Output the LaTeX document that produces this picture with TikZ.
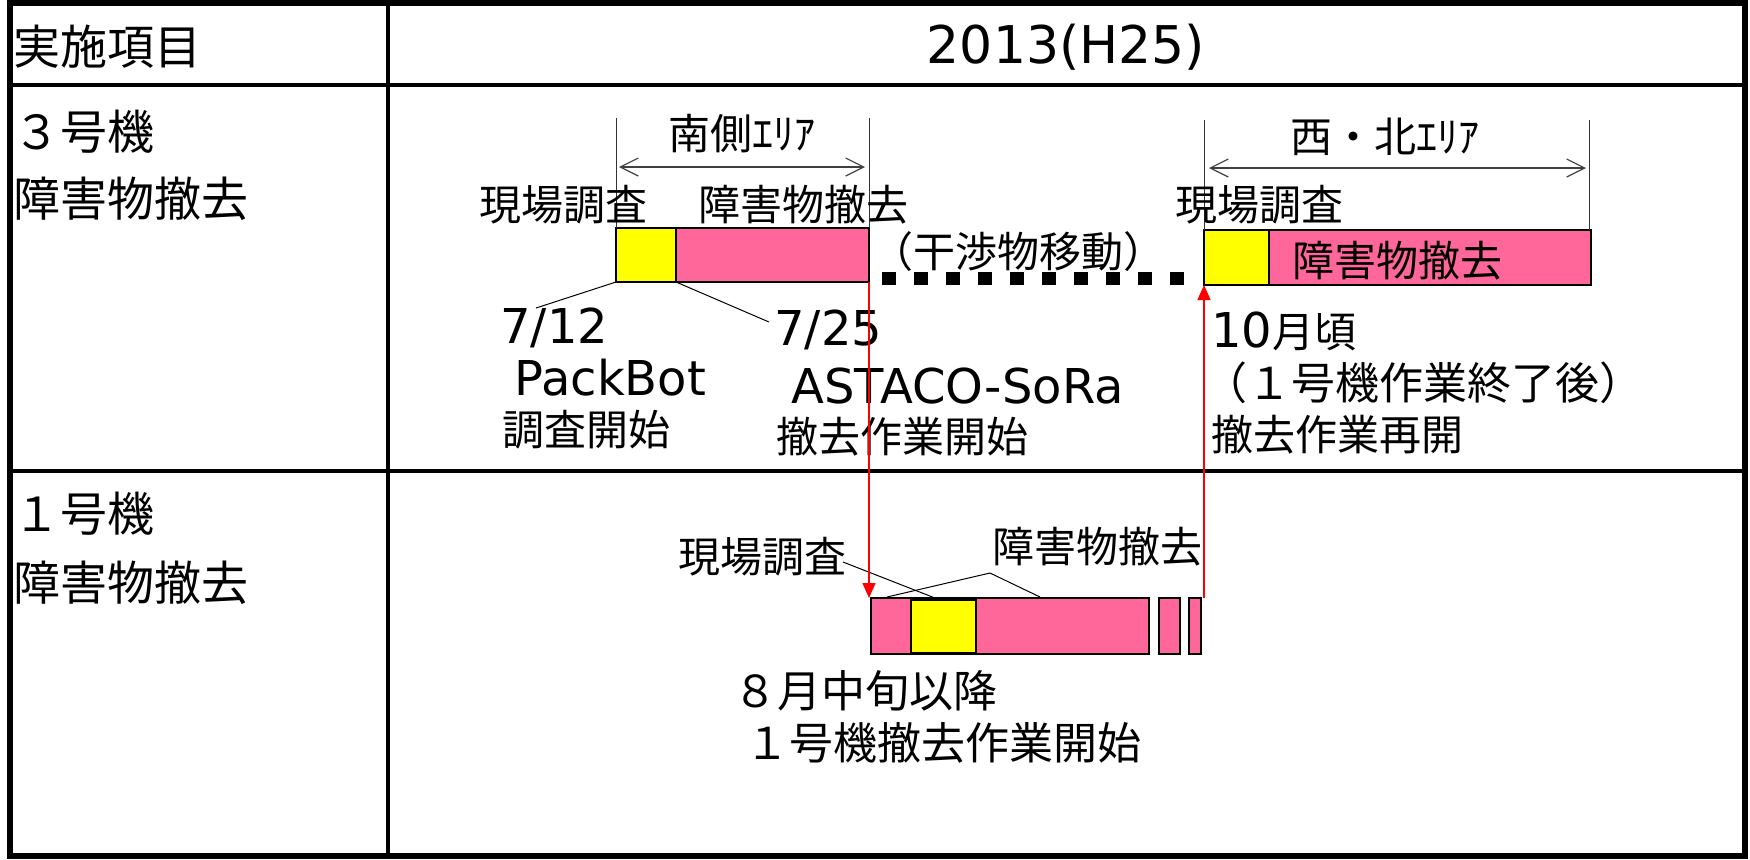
\documentclass[tikz,border=0pt]{standalone}
\usepackage{fontspec}
\setmainfont{Noto Sans CJK JP}
\newfontfamily\lat{DejaVu Sans}
\usetikzlibrary{arrows.meta}
\definecolor{pinkbar}{RGB}{255,102,153}
\definecolor{ybar}{RGB}{255,255,0}
\begin{document}
\begin{tikzpicture}[x=0.5pt,y=-0.5pt,
  cj/.style={inner sep=0pt, font=\fontsize{21}{25}\selectfont},
  cjb/.style={inner sep=0pt, font=\fontsize{22}{26}\selectfont},
  big/.style={inner sep=0pt, font=\fontsize{23.5}{28}\selectfont},
  la/.style={inner sep=0pt, font=\lat\fontsize{24}{28}\selectfont},
  bar/.style={draw=black, line width=0.75pt, inner sep=0pt, outer sep=0pt, anchor=north west},
  pk/.style={bar, fill=pinkbar},
  yl/.style={bar, fill=ybar},
  dimline/.style={line width=0.5pt, black!80},
  spanarrow/.style={line width=0.6pt, black!75, {Straight Barb[length=9pt,width=9pt]}-{Straight Barb[length=9pt,width=9pt]}},
  lead/.style={line width=0.5pt, black},
  redarrow/.style={draw=red, line width=0.75pt, -{Triangle[length=7.5pt,width=6.5pt]}},
  grid/.style={line width=2pt, black}
]
\path[use as bounding box] (0,0) rectangle (1750,859);
% table
\draw[grid] (388,3) -- (388,856);
\draw[grid] (10,85) -- (1745,85);
\draw[grid] (10,471) -- (1745,471);
\draw[line width=2.75pt] (10,3) rectangle (1745,856);

% header
\node[big, anchor=west] (hd) at (13,47) {実施項目};
\node[inner sep=0pt, font=\lat\fontsize{26}{30}\selectfont] (yr) at (1066,47) {2013(H25)};

% row labels
\node[big, anchor=west] (r3a) at (13,132) {３号機};
\node[big, anchor=west] (r3b) at (13,199) {障害物撤去};
\node[big, anchor=west] (r1a) at (13,514) {１号機};
\node[big, anchor=west] (r1b) at (13,583) {障害物撤去};

% row 1 bars
\node[yl, minimum width=30pt, minimum height=27pt] (y1) at (616,228) {};
\node[pk, minimum width=96.5pt, minimum height=27pt] (p1) at (676,228) {};
\node[yl, minimum width=32.5pt, minimum height=27.5pt] (y2) at (1204,230) {};
\node[pk, minimum width=161pt, minimum height=27.5pt] (p2) at (1269,230) {};

% dimension lines
\coordinate (v1) at (616,118);
\coordinate (v2) at (869,118);
\coordinate (v3) at (1204,120);
\coordinate (v4) at (1589,120);
\coordinate (v4b) at (1589,230);
\draw[dimline] (v1) -- (y1.north west);
\draw[dimline] (v2) -- (p1.north east);
\draw[dimline] (v3) -- (y2.north west);
\draw[dimline] (v4) -- (v4b);

\coordinate (sa1) at (619,167);
\coordinate (sa2) at (865,167);
\coordinate (sb1) at (1209,168);
\coordinate (sb2) at (1586,168);
\draw[spanarrow] (sa1) -- (sa2);
\draw[spanarrow] (sb1) -- (sb2);
\node[cj] (south) at (742,134) {南側ｴﾘｱ};
\node[cj] (westnorth) at (1385,137) {西・北ｴﾘｱ};

% row 1 texts
\node[cj] (t1) at (563,205) {現場調査};
\node[cj] (t2) at (803,205) {障害物撤去};
\node[cj] (t3) at (1259,205) {現場調査};
\node[cj] (t4) at (1397,261) {障害物撤去};
\node[cj] (t5) at (1018,252) {（干渉物移動）};

\coordinate (dt1) at (882,278);
\coordinate (dt2) at (1184,278);
\draw[line width=6.5pt, dash pattern=on 7pt off 9pt] (dt1) -- (dt2);

\node[la, anchor=base west] (d712) at (500,343) {7/12};
\node[la, anchor=base west] (pb) at (514,395) {PackBot};
\node[cj, anchor=west] (s1) at (502,430) {調査開始};
\node[la, anchor=base west] (d725) at (774,345) {7/25};
\node[la, anchor=base west] (as) at (791,403) {ASTACO-SoRa};
\node[cj, anchor=west] (s2) at (776,437) {撤去作業開始};

\node[cj, anchor=west] (oct) at (1211,331) {{\lat\fontsize{24}{28}\selectfont 10}月頃};
\node[cjb, anchor=west] (aft) at (1203,383) {（１号機作業終了後）};
\node[cj, anchor=west] (re) at (1211,435) {撤去作業再開};

\coordinate (l1) at (536,308);
\coordinate (l2) at (769,322);
\draw[lead] (y1.south west) -- (l1);
\draw[lead] (y1.south east) -- (l2);

% row 2 bars
\node[pk, minimum width=139pt, minimum height=28pt] (q1) at (871,598) {};
\node[yl, minimum width=32.5pt, minimum height=26.5pt] (qy) at (911,600) {};
\node[pk, minimum width=10.5pt, minimum height=28pt] (q2) at (1159,598) {};
\node[pk, minimum width=6pt, minimum height=28pt] (q3) at (1189,598) {};

\node[cj] (u1) at (762,557) {現場調査};
\node[cj] (u2) at (1097,547) {障害物撤去};
\node[cjb, anchor=west] (u3) at (733,691) {８月中旬以降};
\node[cjb, anchor=west] (u4) at (745,743) {１号機撤去作業開始};

\coordinate (m1) at (843,562);
\coordinate (m2) at (935,598);
\coordinate (ap) at (990,573);
\coordinate (m3) at (887,597);
\coordinate (m4) at (1040,597);
\draw[lead] (m1) -- (m2);
\draw[lead] (m3) -- (ap) -- (m4);

% red arrows
\draw[redarrow] (p1.south east) -- (p1.south east |- q1.north);
\draw[redarrow] (y2.south west |- q3.north) -- (y2.south west);
\end{tikzpicture}
\end{document}
